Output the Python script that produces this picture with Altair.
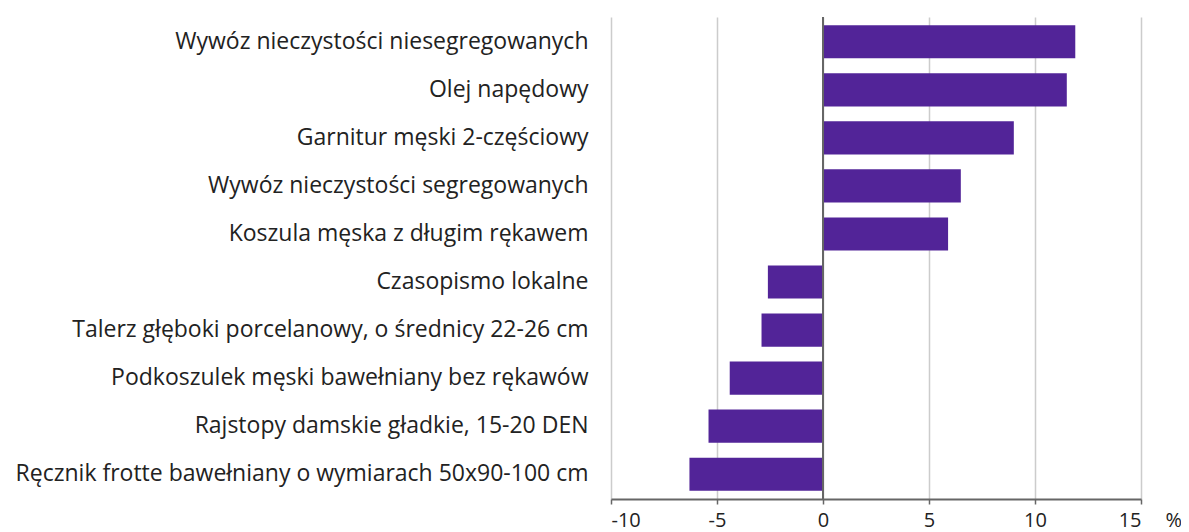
import altair as alt
import pandas as pd

categories = [
    "Wywóz nieczystości niesegregowanych",
    "Olej napędowy",
    "Garnitur męski 2-częściowy",
    "Wywóz nieczystości segregowanych",
    "Koszula męska z długim rękawem",
    "Czasopismo lokalne",
    "Talerz głęboki porcelanowy, o średnicy 22-26 cm",
    "Podkoszulek męski bawełniany bez rękawów",
    "Rajstopy damskie gładkie, 15-20 DEN",
    "Ręcznik frotte bawełniany o wymiarach 50x90-100 cm",
]
values = [11.9, 11.5, 9.0, 6.5, 5.9, -2.6, -2.9, -4.4, -5.4, -6.3]
x_ticks = [-10, -5, 0, 5, 10, 15]

df = pd.DataFrame({"cat": categories, "val": values})
FONT = "Open Sans"

bars = alt.Chart(df).mark_bar(color="#522498").encode(
    x=alt.X("val:Q",
            scale=alt.Scale(domain=[-10, 15], nice=False, zero=False),
            axis=alt.Axis(values=x_ticks, title="%", titleX=554, titleY=11,
                          titleAlign="left", titleBaseline="top",
                          titleFontSize=20, titleFontWeight="normal", titleColor="#222",
                          titleFont=FONT,
                          labelExpr="toString(datum.value)",
                          grid=True, gridColor="#cccccc", gridWidth=1.5,
                          domainColor="#666666", domainWidth=2,
                          tickColor="#666666", tickSize=5, tickWidth=1.5,
                          labelFontSize=20, labelFont=FONT, labelColor="#222",
                          labelPadding=6)),
    y=alt.Y("cat:N", sort=categories,
            scale=alt.Scale(paddingInner=0.31, paddingOuter=0.17),
            axis=alt.Axis(title=None, domain=False, ticks=False, grid=False,
                          labelFontSize=23, labelFont=FONT, labelColor="#222",
                          labelPadding=23, labelLimit=700)),
)

zero = alt.Chart(pd.DataFrame({"z": [0]})).mark_rule(color="#666666", strokeWidth=2).encode(
    x=alt.X("z:Q", scale=alt.Scale(domain=[-10, 15], nice=False, zero=False))
)

chart = alt.layer(bars, zero).properties(
    width=530, height=482,
    autosize=alt.AutoSizeParams(type="none"),
    padding={"left": 603, "top": 9, "right": 40, "bottom": 35},
).configure_view(stroke=None)

chart.save("out.html", embed_options={"renderer": "svg", "actions": False})
